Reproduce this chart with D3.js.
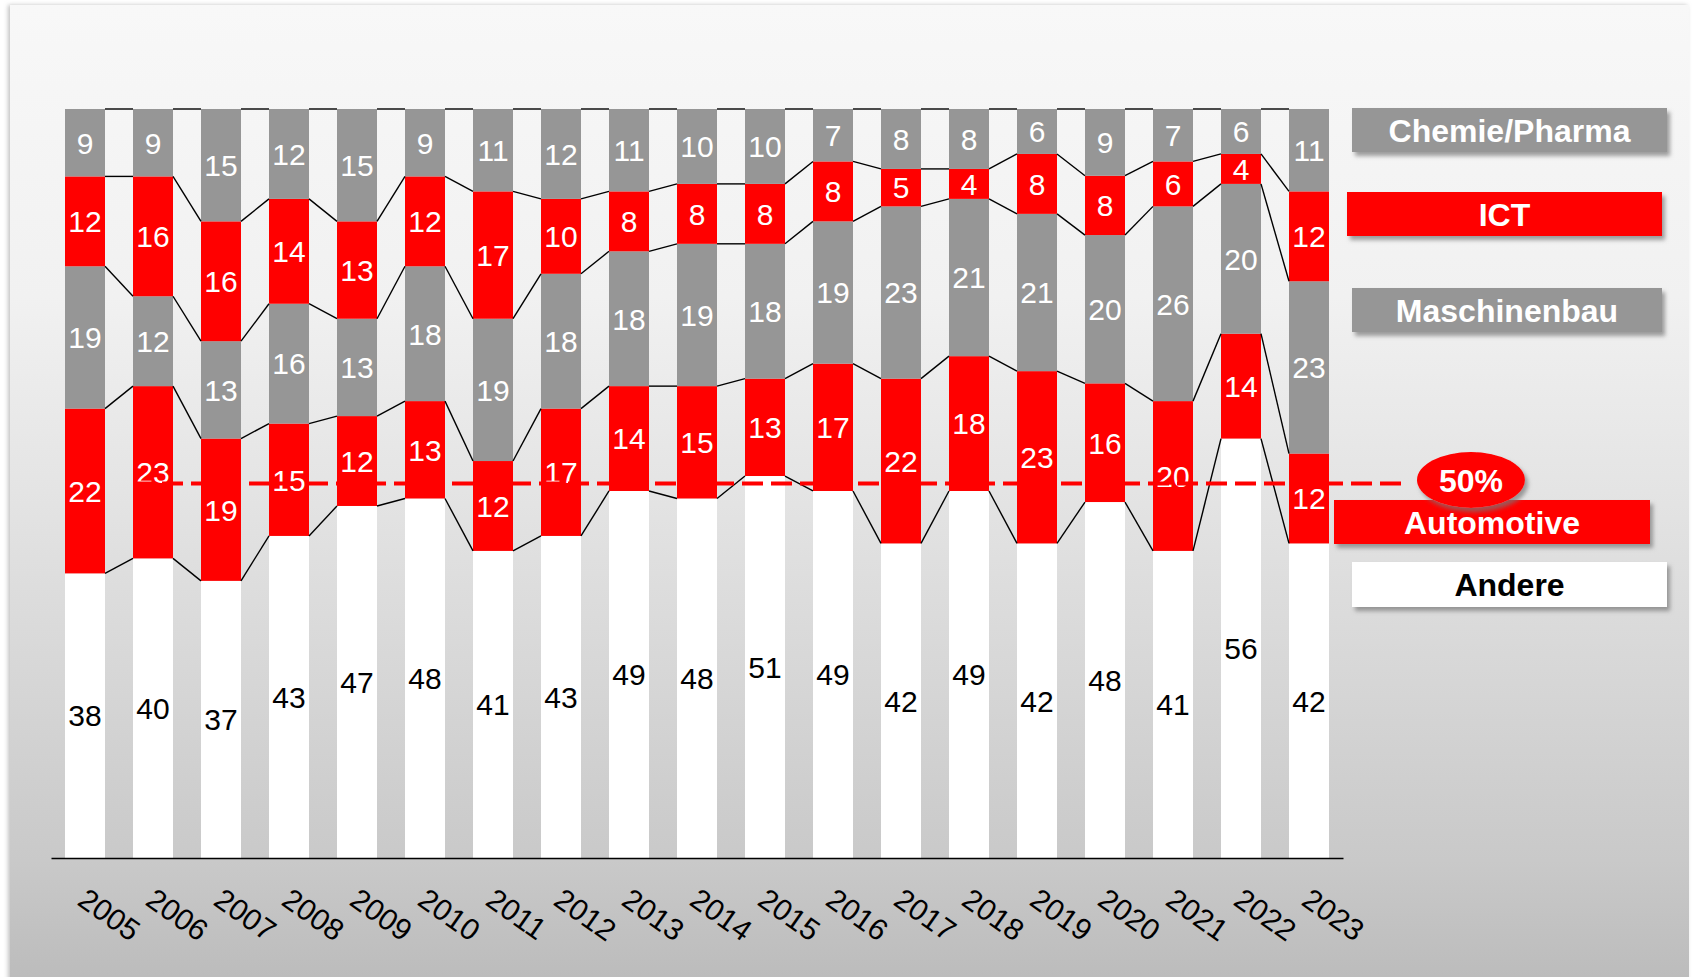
<!DOCTYPE html>
<html><head><meta charset="utf-8">
<script src="https://cdn.jsdelivr.net/npm/d3@7"></script>
<style>html,body{margin:0;padding:0;background:#fff;overflow:hidden}svg{display:block;font-family:"Liberation Sans",Arial,sans-serif}</style>
</head><body>
<svg id="c" width="1694" height="977"></svg>
<script>
const years = ["2005","2006","2007","2008","2009","2010","2011","2012","2013","2014","2015","2016","2017","2018","2019","2020","2021","2022","2023"];
const andere       = [38,40,37,43,47,48,41,43,49,48,51,49,42,49,42,48,41,56,42];
const automotive   = [22,23,19,15,12,13,12,17,14,15,13,17,22,18,23,16,20,14,12];
const maschinenbau = [19,12,13,16,13,18,19,18,18,19,18,19,23,21,21,20,26,20,23];
const ict          = [12,16,16,14,13,12,17,10, 8, 8, 8, 8, 5, 4, 8, 8, 6, 4,12];
const chemie       = [ 9, 9,15,12,15, 9,11,12,11,10,10, 7, 8, 8, 6, 9, 7, 6,11];
const seriesKeys   = ["Andere","Automotive","Maschinenbau","ICT","Chemie/Pharma"];
const seriesFill   = {"Andere":"#ffffff","Automotive":"#ff0000","Maschinenbau":"#969696","ICT":"#ff0000","Chemie/Pharma":"#969696"};
const seriesText   = {"Andere":"#000000","Automotive":"#ffffff","Maschinenbau":"#ffffff","ICT":"#ffffff","Chemie/Pharma":"#ffffff"};
const legendOrder  = ["Chemie/Pharma","ICT","Maschinenbau","Automotive","Andere"];
const refValue = 0.5, refLabel = "50%";

const rows = years.map((y,i)=>({year:y,"Andere":andere[i],"Automotive":automotive[i],"Maschinenbau":maschinenbau[i],"ICT":ict[i],"Chemie/Pharma":chemie[i]}));
const stack = d3.stack().keys(seriesKeys).offset(d3.stackOffsetExpand);
const layers = stack(rows);

const svg = d3.select("#c");
const defs = svg.append("defs");
const g = defs.append("linearGradient").attr("id","bg").attr("gradientUnits","userSpaceOnUse")
  .attr("x1",0).attr("y1",5).attr("x2",0).attr("y2",977);
[[0,"#f8f8f8"],[0.3,"#f1f1f1"],[0.5,"#e4e4e4"],[0.88,"#c9c9c9"],[1,"#bcbcbc"]].forEach(s=>g.append("stop").attr("offset",s[0]).attr("stop-color",s[1]));
const f = defs.append("filter").attr("id","sh").attr("x","-10%").attr("y","-30%").attr("width","125%").attr("height","180%");
f.append("feDropShadow").attr("dx",3).attr("dy",4).attr("stdDeviation",2).attr("flood-color","#777").attr("flood-opacity",0.7);
const pf = defs.append("filter").attr("id","psh").attr("x","-2%").attr("y","-2%").attr("width","104%").attr("height","104%");
pf.append("feDropShadow").attr("dx",-2).attr("dy",0).attr("stdDeviation",2).attr("flood-color","#999").attr("flood-opacity",0.6);

svg.append("rect").attr("x",10).attr("y",5).attr("width",1679).attr("height",1010).attr("fill","url(#bg)").attr("filter","url(#psh)");

const x = d3.scaleBand().domain(years).range([51,1343]).paddingInner(28/68).paddingOuter(14/68);
const y = d3.scaleLinear().domain([0,1]).range([858,109]);
const bw = x.bandwidth();

// bars
const lg = svg.append("g");
layers.forEach(layer=>{
  lg.selectAll(null).data(layer).join("rect")
    .attr("x",d=>x(d.data.year)).attr("width",bw)
    .attr("y",d=>y(d[1])).attr("height",d=>y(d[0])-y(d[1]))
    .attr("fill",seriesFill[layer.key]);
});

// connector lines
const cg = svg.append("g").attr("stroke","#000").attr("stroke-width",1.4).attr("fill","none");
layers.forEach(layer=>{
  for(let i=0;i<layer.length-1;i++){
    cg.append("line")
      .attr("x1",x(years[i])+bw).attr("y1",y(layer[i][1]))
      .attr("x2",x(years[i+1])).attr("y2",y(layer[i+1][1]));
  }
});

// segment labels
const tg = svg.append("g").attr("font-size",30).attr("text-anchor","middle");
layers.forEach(layer=>{
  tg.selectAll(null).data(layer).join("text")
    .attr("x",d=>x(d.data.year)+bw/2)
    .attr("y",d=>y((d[0]+d[1])/2))
    .attr("dy","0.36em")
    .attr("fill",seriesText[layer.key])
    .text(d=>d.data[layer.key]);
});

// axis
const ax = svg.append("g").attr("transform","translate(0,858)")
  .call(d3.axisBottom(x).tickSize(0).tickSizeOuter(0));
ax.select(".domain").attr("stroke","#000").attr("stroke-width",1.4);
ax.selectAll(".tick text")
  .attr("font-family","'Liberation Sans',Arial,sans-serif").attr("font-size",30).attr("fill","#000")
  .attr("x",0).attr("y",0).attr("dy",0).attr("text-anchor","start")
  .attr("transform","translate(-9,46) rotate(35)");

// 50% reference line
svg.append("line").attr("x1",133).attr("x2",1408).attr("y1",y(refValue)).attr("y2",y(refValue))
  .attr("stroke","#ff0000").attr("stroke-width",4).attr("stroke-dasharray","21,8");

// legend
const legendBoxes = {
  "Chemie/Pharma":{x:1352,y:108,w:315,h:44},
  "ICT":{x:1347,y:192,w:315,h:44},
  "Maschinenbau":{x:1352,y:288,w:310,h:44},
  "Automotive":{x:1334,y:500,w:316,h:44},
  "Andere":{x:1352,y:562,w:315,h:45}
};
const leg = svg.append("g").attr("font-size",32).attr("font-weight","bold").attr("text-anchor","middle");
legendOrder.forEach(k=>{
  const b = legendBoxes[k];
  leg.append("rect").attr("x",b.x).attr("y",b.y).attr("width",b.w).attr("height",b.h)
    .attr("fill",seriesFill[k]).attr("filter","url(#sh)");
  leg.append("text").attr("x",b.x+b.w/2).attr("y",b.y+b.h/2).attr("dy","0.36em")
    .attr("fill",seriesText[k]).text(k);
});
leg.append("ellipse").attr("cx",1471).attr("cy",480).attr("rx",54).attr("ry",28)
  .attr("fill","#ff0000").attr("filter","url(#sh)");
leg.append("text").attr("x",1471).attr("y",480).attr("dy","0.36em").attr("fill","#fff").text(refLabel);
</script>
</body></html>
